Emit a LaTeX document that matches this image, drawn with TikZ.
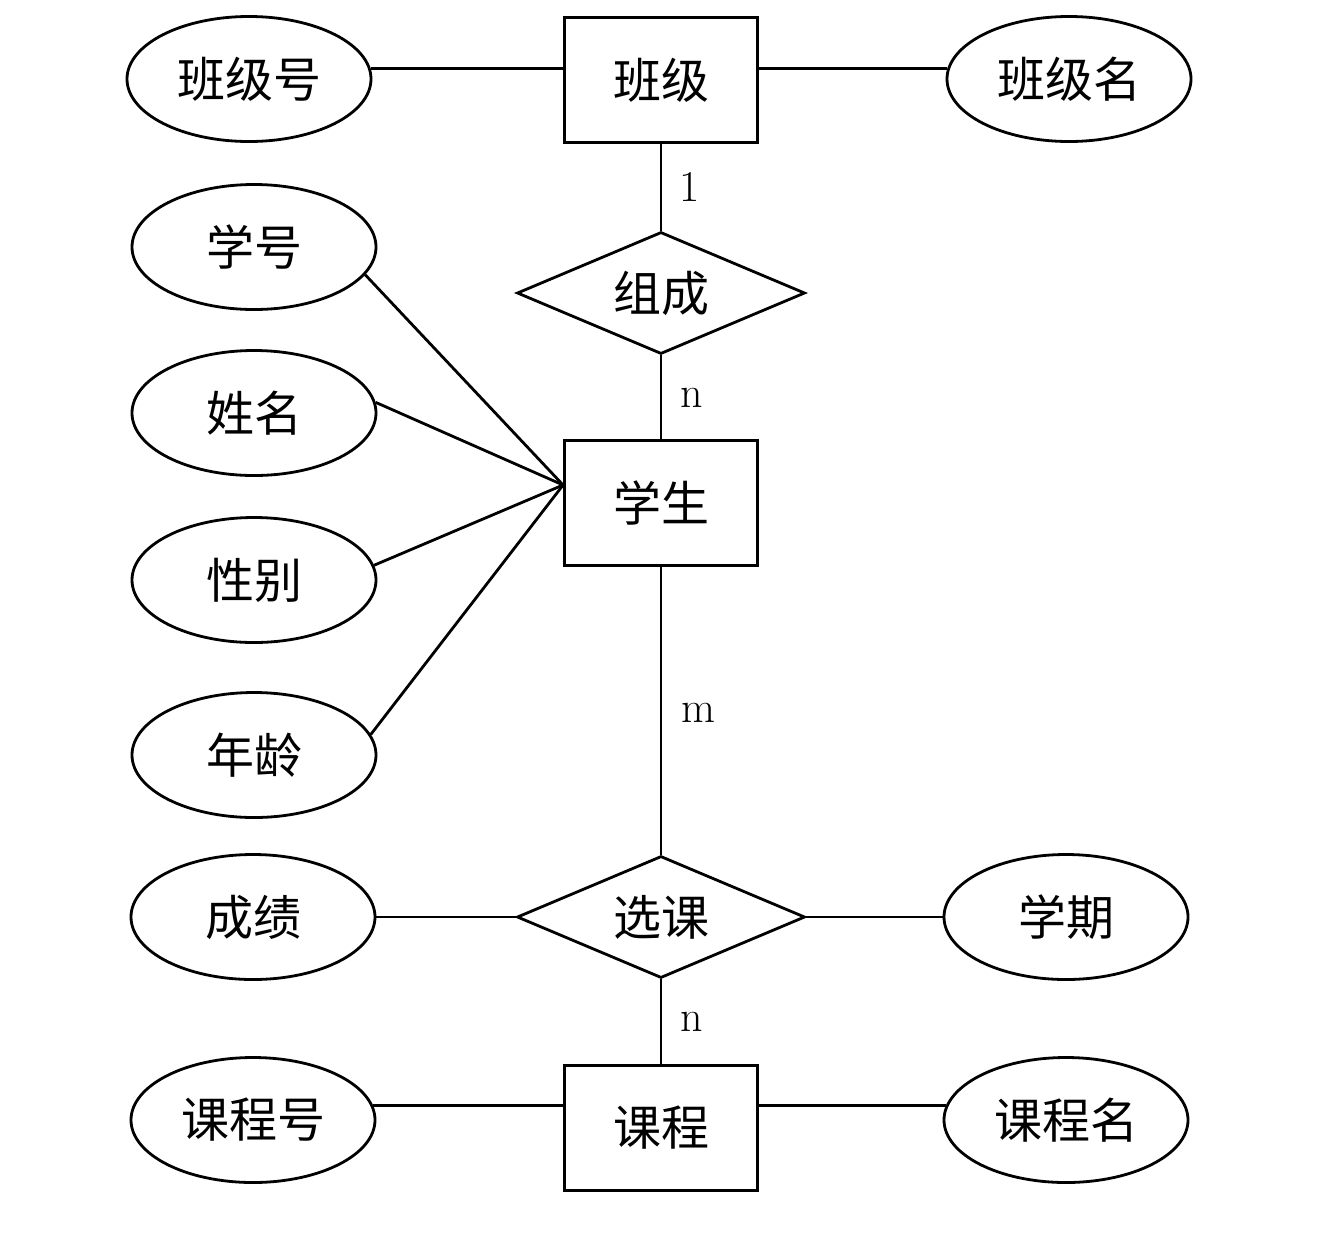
\documentclass[tikz,border=0pt]{standalone}
\usepackage{fontspec}
\newfontfamily\cjk{Noto Sans CJK SC}
\usetikzlibrary{shapes.geometric,calc}
\begin{document}
\begin{tikzpicture}[x=1pt,y=-1pt,
  every path/.style={line width=2.8pt},
  attr/.style={draw,ellipse,minimum width=244pt,minimum height=125pt,inner sep=0pt,font=\cjk\fontsize{48}{52}\selectfont},
  ent/.style={draw,rectangle,minimum width=193pt,minimum height=125pt,inner sep=0pt,font=\cjk\fontsize{48}{52}\selectfont},
  rel/.style={draw,diamond,aspect=2.3,minimum width=288pt,minimum height=122pt,inner sep=0pt,font=\cjk\fontsize{48}{52}\selectfont},
  card/.style={font=\fontsize{44}{48}\selectfont,inner sep=0pt}]
\useasboundingbox (0,0) rectangle (1335,1243);
% entities
\node[ent] (bj) at (661,80) {\raisebox{-4pt}{班级}};
\node[ent] (xs) at (661,503) {\raisebox{-4pt}{学生}};
\node[ent] (kc) at (661,1128) {\raisebox{-4pt}{课程}};
% relations
\node[rel] (zc) at (661,293) {组成};
\node[rel] (xk) at (661,917) {选课};
% attributes
\node[attr] (bjh) at (249,79) {\raisebox{-6pt}{班级号}};
\node[attr] (bjm) at (1069,79) {\raisebox{-6pt}{班级名}};
\node[attr] (xh) at (254,247) {\raisebox{-6pt}{学号}};
\node[attr] (xm) at (254,413) {\raisebox{-6pt}{姓名}};
\node[attr] (xb) at (254,580) {\raisebox{-6pt}{性别}};
\node[attr] (nl) at (254,755) {\raisebox{-6pt}{年龄}};
\node[attr] (cj) at (253,917) {\raisebox{-6pt}{成绩}};
\node[attr] (xq) at (1066,917) {\raisebox{-6pt}{学期}};
\node[attr] (kch) at (253,1120) {\raisebox{-6pt}{课程号}};
\node[attr] (kcm) at (1066,1120) {\raisebox{-6pt}{课程名}};
% cardinalities
\node[card] (c1) at (690,187) {1};
\node[card] (c2) at (692,398) {n};
\node[card] (c3) at (698,713) {m};
\node[card] (c4) at (692,1022) {n};
% connectors
\coordinate (conv) at ($(xs.west)+(0,-18)$);
\draw (bjh.5) -- (bjh.5 -| bj.west);
\draw (bjm.175) -- (bjm.175 -| bj.east);
\draw (bj.south) -- (zc.north);
\draw (zc.south) -- (xs.north);
\draw (xh.-14) -- (conv);
\draw (xm.5) -- (conv);
\draw (xb.7) -- (conv);
\draw (nl.10) -- (conv);
\draw (xs.south) -- (xk.north);
\draw (cj.east) -- (xk.west);
\draw (xk.east) -- (xq.west);
\draw (xk.south) -- (kc.north);
\draw (kch.7) -- (kch.7 -| kc.west);
\draw (kcm.173) -- (kcm.173 -| kc.east);
\end{tikzpicture}
\end{document}
